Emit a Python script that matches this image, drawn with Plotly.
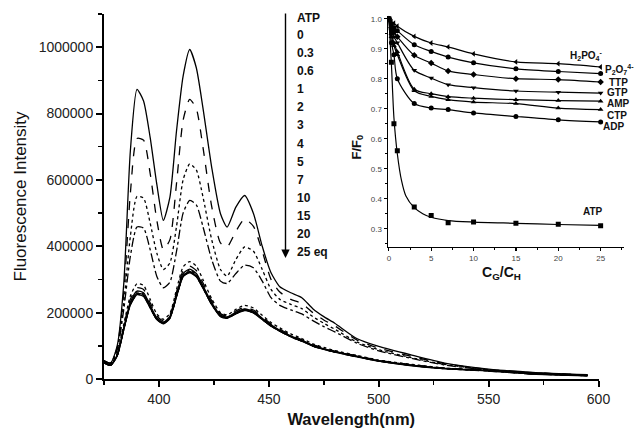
import plotly.graph_objects as go

# ---------------- main spectra data (intensity in thousands) ----------------
wavelength = [375, 378, 381, 384, 387, 390, 393, 396, 399, 402, 405, 408, 411, 414, 417, 420,
              424, 428, 431, 435, 439, 443, 447, 451, 455, 460, 465, 470, 475, 480, 490, 500,
              515, 530, 550, 570, 595]

eq_labels = ["0", "0.3", "0.6", "1", "2", "3", "4", "5", "7", "10", "15", "20", "25 eq"]

I_0 = [55, 48, 100, 288, 688, 873, 838, 728, 588, 478, 548, 748, 913, 993, 938, 818,
       638, 498, 458, 518, 553, 499, 400, 320, 278, 260, 245, 212, 188, 168, 122, 98,
       72, 48, 30, 20, 13]
I_03 = [55, 48, 95, 260, 560, 725, 720, 620, 480, 390, 420, 590, 780, 843, 815, 700,
        520, 410, 398, 445, 482, 460, 385, 300, 262, 240, 228, 200, 178, 160, 118, 93,
        68, 46, 29, 19, 12]
I_06 = [55, 48, 90, 230, 430, 550, 545, 470, 380, 330, 350, 460, 600, 648, 630, 550,
        420, 330, 310, 360, 398, 385, 330, 270, 240, 225, 212, 188, 168, 150, 112, 88,
        64, 44, 28, 18, 12]
I_1 = [55, 48, 88, 210, 370, 458, 455, 390, 310, 275, 292, 385, 500, 538, 525, 460,
       360, 295, 288, 318, 343, 335, 295, 245, 222, 208, 196, 176, 158, 142, 108, 85,
       62, 42, 27, 17, 11]
I_2 = [52, 44, 76, 165, 250, 287, 282, 240, 196, 180, 198, 270, 338, 354, 340, 300,
       242, 200, 193, 210, 222, 214, 192, 170, 154, 136, 122, 106, 95, 86, 71, 57,
       44, 33, 26, 17, 11]
I_3 = [51, 43, 74, 160, 240, 275, 270, 230, 190, 175, 193, 262, 326, 340, 327, 290,
       236, 197, 190, 205, 216, 208, 187, 166, 150, 133, 119, 104, 93, 84, 70, 56,
       43, 33, 26, 16, 11]
I_4 = [50, 42, 72, 155, 232, 265, 260, 222, 185, 171, 189, 256, 318, 331, 318, 282,
       230, 193, 187, 201, 211, 204, 183, 163, 147, 130, 117, 102, 91, 83, 69, 55,
       42, 32, 25, 16, 10]
I_5 = [52, 44, 73, 152, 228, 262, 257, 220, 183, 170, 187, 253, 315, 328, 315, 280,
       228, 192, 186, 200, 210, 203, 182, 162, 146, 129, 116, 101, 91, 82, 68, 55,
       42, 32, 25, 16, 10]
I_7 = [49, 41, 70, 150, 226, 258, 253, 217, 181, 168, 185, 250, 311, 324, 311, 276,
       226, 190, 185, 198, 208, 201, 180, 160, 145, 128, 115, 100, 90, 82, 68, 54,
       41, 31, 25, 16, 10]
I_10 = [50, 42, 71, 151, 225, 256, 251, 216, 180, 167, 184, 249, 309, 322, 309, 275,
        225, 189, 184, 197, 207, 200, 180, 160, 144, 127, 114, 100, 89, 81, 67, 54,
        41, 31, 24, 15, 10]
I_15 = [51, 43, 72, 153, 227, 257, 252, 217, 181, 168, 185, 250, 310, 323, 310, 276,
        226, 190, 185, 198, 208, 201, 181, 161, 145, 128, 115, 101, 90, 82, 68, 55,
        42, 32, 25, 16, 10]
I_20 = [49, 41, 69, 148, 223, 254, 249, 214, 179, 166, 183, 248, 308, 320, 308, 274,
        224, 188, 183, 196, 206, 199, 179, 159, 144, 127, 114, 99, 89, 81, 67, 54,
        40, 31, 24, 15, 10]
I_25 = [50, 42, 70, 150, 225, 255, 250, 215, 180, 168, 185, 250, 310, 322, 310, 275,
        225, 190, 185, 198, 207, 200, 180, 160, 145, 128, 115, 100, 90, 82, 68, 55,
        41, 31, 25, 16, 10]

spectra = [I_0, I_03, I_06, I_1, I_2, I_3, I_4, I_5, I_7, I_10, I_15, I_20, I_25]
dashes = ["solid", "dash", "dot", "dashdot", "dot", "dash", "solid", "dot",
          "solid", "dash", "dot", "solid", "dashdot"]

# ---------------- inset data: F/F0 vs CG/CH ----------------
ratio = [0, 0.3, 0.6, 1, 3, 5, 7, 10, 15, 20, 25]
F_H2PO4 = [1.0, 0.99, 0.985, 0.975, 0.941, 0.919, 0.906, 0.883, 0.856, 0.850, 0.839]
F_P2O7 = [1.0, 0.98, 0.97, 0.96, 0.913, 0.891, 0.872, 0.853, 0.833, 0.824, 0.817]
F_TTP = [1.0, 0.97, 0.955, 0.94, 0.878, 0.852, 0.826, 0.814, 0.800, 0.797, 0.789]
F_GTP = [1.0, 0.96, 0.94, 0.92, 0.828, 0.802, 0.780, 0.770, 0.759, 0.755, 0.752]
F_AMP = [1.0, 0.95, 0.92, 0.89, 0.765, 0.750, 0.740, 0.735, 0.730, 0.727, 0.725]
F_CTP = [1.0, 0.94, 0.91, 0.88, 0.760, 0.741, 0.730, 0.722, 0.717, 0.702, 0.697]
F_ADP = [1.0, 0.92, 0.88, 0.80, 0.717, 0.702, 0.697, 0.686, 0.674, 0.663, 0.656]
F_ATP = [1.0, 0.855, 0.65, 0.56, 0.372, 0.344, 0.320, 0.322, 0.318, 0.315, 0.310]
# ATP fit line
atp_fit_x = [0, 0.3, 0.6, 1, 1.5, 2, 3, 4, 5, 7, 10, 15, 20, 25]
atp_fit_y = [1.0, 0.85, 0.67, 0.55, 0.46, 0.41, 0.37, 0.35, 0.338, 0.327, 0.322, 0.318, 0.314, 0.311]

inset_series = [
    ("H2PO4", F_H2PO4, "triangle-left"),
    ("P2O7", F_P2O7, "circle"),
    ("TTP", F_TTP, "diamond"),
    ("GTP", F_GTP, "triangle-down"),
    ("AMP", F_AMP, "triangle-up"),
    ("CTP", F_CTP, "triangle-up"),
    ("ADP", F_ADP, "circle"),
]

# ---------------- figure ----------------
W, H = 634, 432
ML, MR, MT, MB = 104, 10, 14, 53
PW = W - ML - MR
PH = H - MT - MB


def px(x):
    return (x - ML) / PW


def py(y):
    return (H - MB - y) / PH


fig = go.Figure()

for vals, dsh, lab in zip(spectra, dashes, eq_labels):
    fig.add_trace(go.Scatter(
        x=wavelength, y=[v * 1000 for v in vals], mode="lines",
        line=dict(color="black", width=1.3, dash=dsh, shape="spline", smoothing=0.6),
        name=lab, showlegend=False, xaxis="x", yaxis="y"))

for name, vals, sym in inset_series:
    fig.add_trace(go.Scatter(
        x=ratio, y=vals, mode="lines+markers",
        line=dict(color="black", width=1.2, shape="spline", smoothing=0.8),
        marker=dict(symbol=sym, size=5, color="black"),
        name=name, showlegend=False, xaxis="x2", yaxis="y2"))

fig.add_trace(go.Scatter(
    x=atp_fit_x, y=atp_fit_y, mode="lines",
    line=dict(color="black", width=1.2, shape="spline", smoothing=0.8),
    showlegend=False, xaxis="x2", yaxis="y2"))
fig.add_trace(go.Scatter(
    x=ratio, y=F_ATP, mode="markers",
    marker=dict(symbol="square", size=5, color="black"),
    showlegend=False, xaxis="x2", yaxis="y2"))

axis_font = dict(family="Arial, Liberation Sans, sans-serif", size=14, color="#222")

fig.update_layout(
    width=W, height=H, autosize=False, showlegend=False,
    margin=dict(l=ML, r=MR, t=MT, b=MB, autoexpand=False),
    paper_bgcolor="white", plot_bgcolor="rgba(0,0,0,0)",
    font=dict(family="Arial, Liberation Sans, sans-serif", color="black"),
    hovermode=False,
    xaxis=dict(domain=[0, px(598.5)], range=[375, 600], tick0=400, dtick=50, automargin=False,
               showgrid=False, zeroline=False, showline=True, linecolor="black", linewidth=2,
               ticks="outside", ticklen=6, tickwidth=2, tickcolor="black",
               minor=dict(dtick=25, tick0=375, ticks="outside", ticklen=4, tickwidth=1.5, tickcolor="black"),
               tickfont=axis_font,
               title=dict(text="<b>Wavelength(nm)</b>", font=dict(size=16.5, color="#111"), standoff=8)),
    yaxis=dict(domain=[0, 1], range=[0, 1100000], tick0=0, dtick=200000, tickformat="d", automargin=False,
               showgrid=False, zeroline=False, showline=True, linecolor="black", linewidth=2,
               ticks="outside", ticklen=6, tickwidth=2, tickcolor="black",
               minor=dict(dtick=100000, ticks="outside", ticklen=4, tickwidth=1.5, tickcolor="black"),
               tickfont=axis_font,
               title=dict(text="Fluorescence Intensity", font=dict(size=17, color="#111"), standoff=8)),
    xaxis2=dict(domain=[px(388), px(623.5)], range=[-0.1, 27.7], anchor="y2", automargin=False,
                tick0=0, dtick=5, showgrid=False, zeroline=False, showline=True,
                linecolor="black", linewidth=1.5, ticks="outside", ticklen=3, tickwidth=1.2,
                tickcolor="black",
                minor=dict(dtick=2.5, ticks="outside", ticklen=2, tickwidth=1, tickcolor="black"),
                tickfont=dict(size=8, color="#444")),
    yaxis2=dict(domain=[py(246.7), py(15.7)], range=[0.24, 1.01], anchor="x2", automargin=False,
                tick0=0.3, dtick=0.1, tickformat=".1f", showgrid=False, zeroline=False,
                showline=True, linecolor="black", linewidth=1.5, ticks="outside", ticklen=3,
                tickwidth=1.2, tickcolor="black",
                minor=dict(dtick=0.05, ticks="outside", ticklen=2, tickwidth=1, tickcolor="black"),
                tickfont=dict(size=8, color="#444")),
)

ann = []
# legend list for the main plot
ann.append(dict(x=px(295), y=py(18), xref="paper", yref="paper", text="<b>ATP</b>",
                showarrow=False, xanchor="left", yanchor="middle",
                font=dict(size=12, color="#111")))
step = (252 - 35) / 12
for i, lab in enumerate(eq_labels):
    ann.append(dict(x=px(295), y=py(35 + i * step), xref="paper", yref="paper",
                    text="<b>" + lab + "</b>", showarrow=False, xanchor="left", yanchor="middle",
                    font=dict(size=12, color="#111")))
# arrow
ann.append(dict(x=px(285.5), y=py(258), xref="paper", yref="paper", text="",
                showarrow=True, ax=0, ay=-246, axref="pixel", ayref="pixel",
                arrowhead=2, arrowsize=1.2, arrowwidth=1.4, arrowcolor="black"))
# inset titles
ann.append(dict(x=px(357), y=py(133), xref="paper", yref="paper", text="<b>F/F<sub>0</sub></b>",
                showarrow=False, textangle=-90, font=dict(size=13, color="#111")))
ann.append(dict(x=px(480), y=py(273), xref="paper", yref="paper",
                text="<b>C<sub>G</sub>/C<sub>H</sub></b>", xanchor="left", yanchor="middle",
                showarrow=False, font=dict(size=14, color="#111")))
# inset series labels
labels = [
    ("H<sub>2</sub>PO<sub>4</sub><sup>-</sup>", 586, 56, "center"),
    ("P<sub>2</sub>O<sub>7</sub><sup>4-</sup>", 603, 69, "left"),
    ("TTP", 607, 82, "left"),
    ("GTP", 605, 92, "left"),
    ("AMP", 605, 103, "left"),
    ("CTP", 605, 116, "left"),
    ("ADP", 601, 127, "left"),
    ("ATP", 593, 211, "center"),
]
for t, x, y, xa in labels:
    ann.append(dict(x=px(x), y=py(y), xref="paper", yref="paper", text="<b>" + t + "</b>",
                    showarrow=False, xanchor=xa, yanchor="middle",
                    font=dict(size=10, color="#111")))

fig.update_layout(annotations=ann)

fig.write_html(
    "out.html",
    config={"displayModeBar": False, "responsive": False, "staticPlot": True},
    post_script=("document.documentElement.style.margin='0px';"
                 "document.body.style.margin='0px';"
                 "document.documentElement.style.overflow='hidden';"
                 "document.body.style.overflow='hidden';"),
)
